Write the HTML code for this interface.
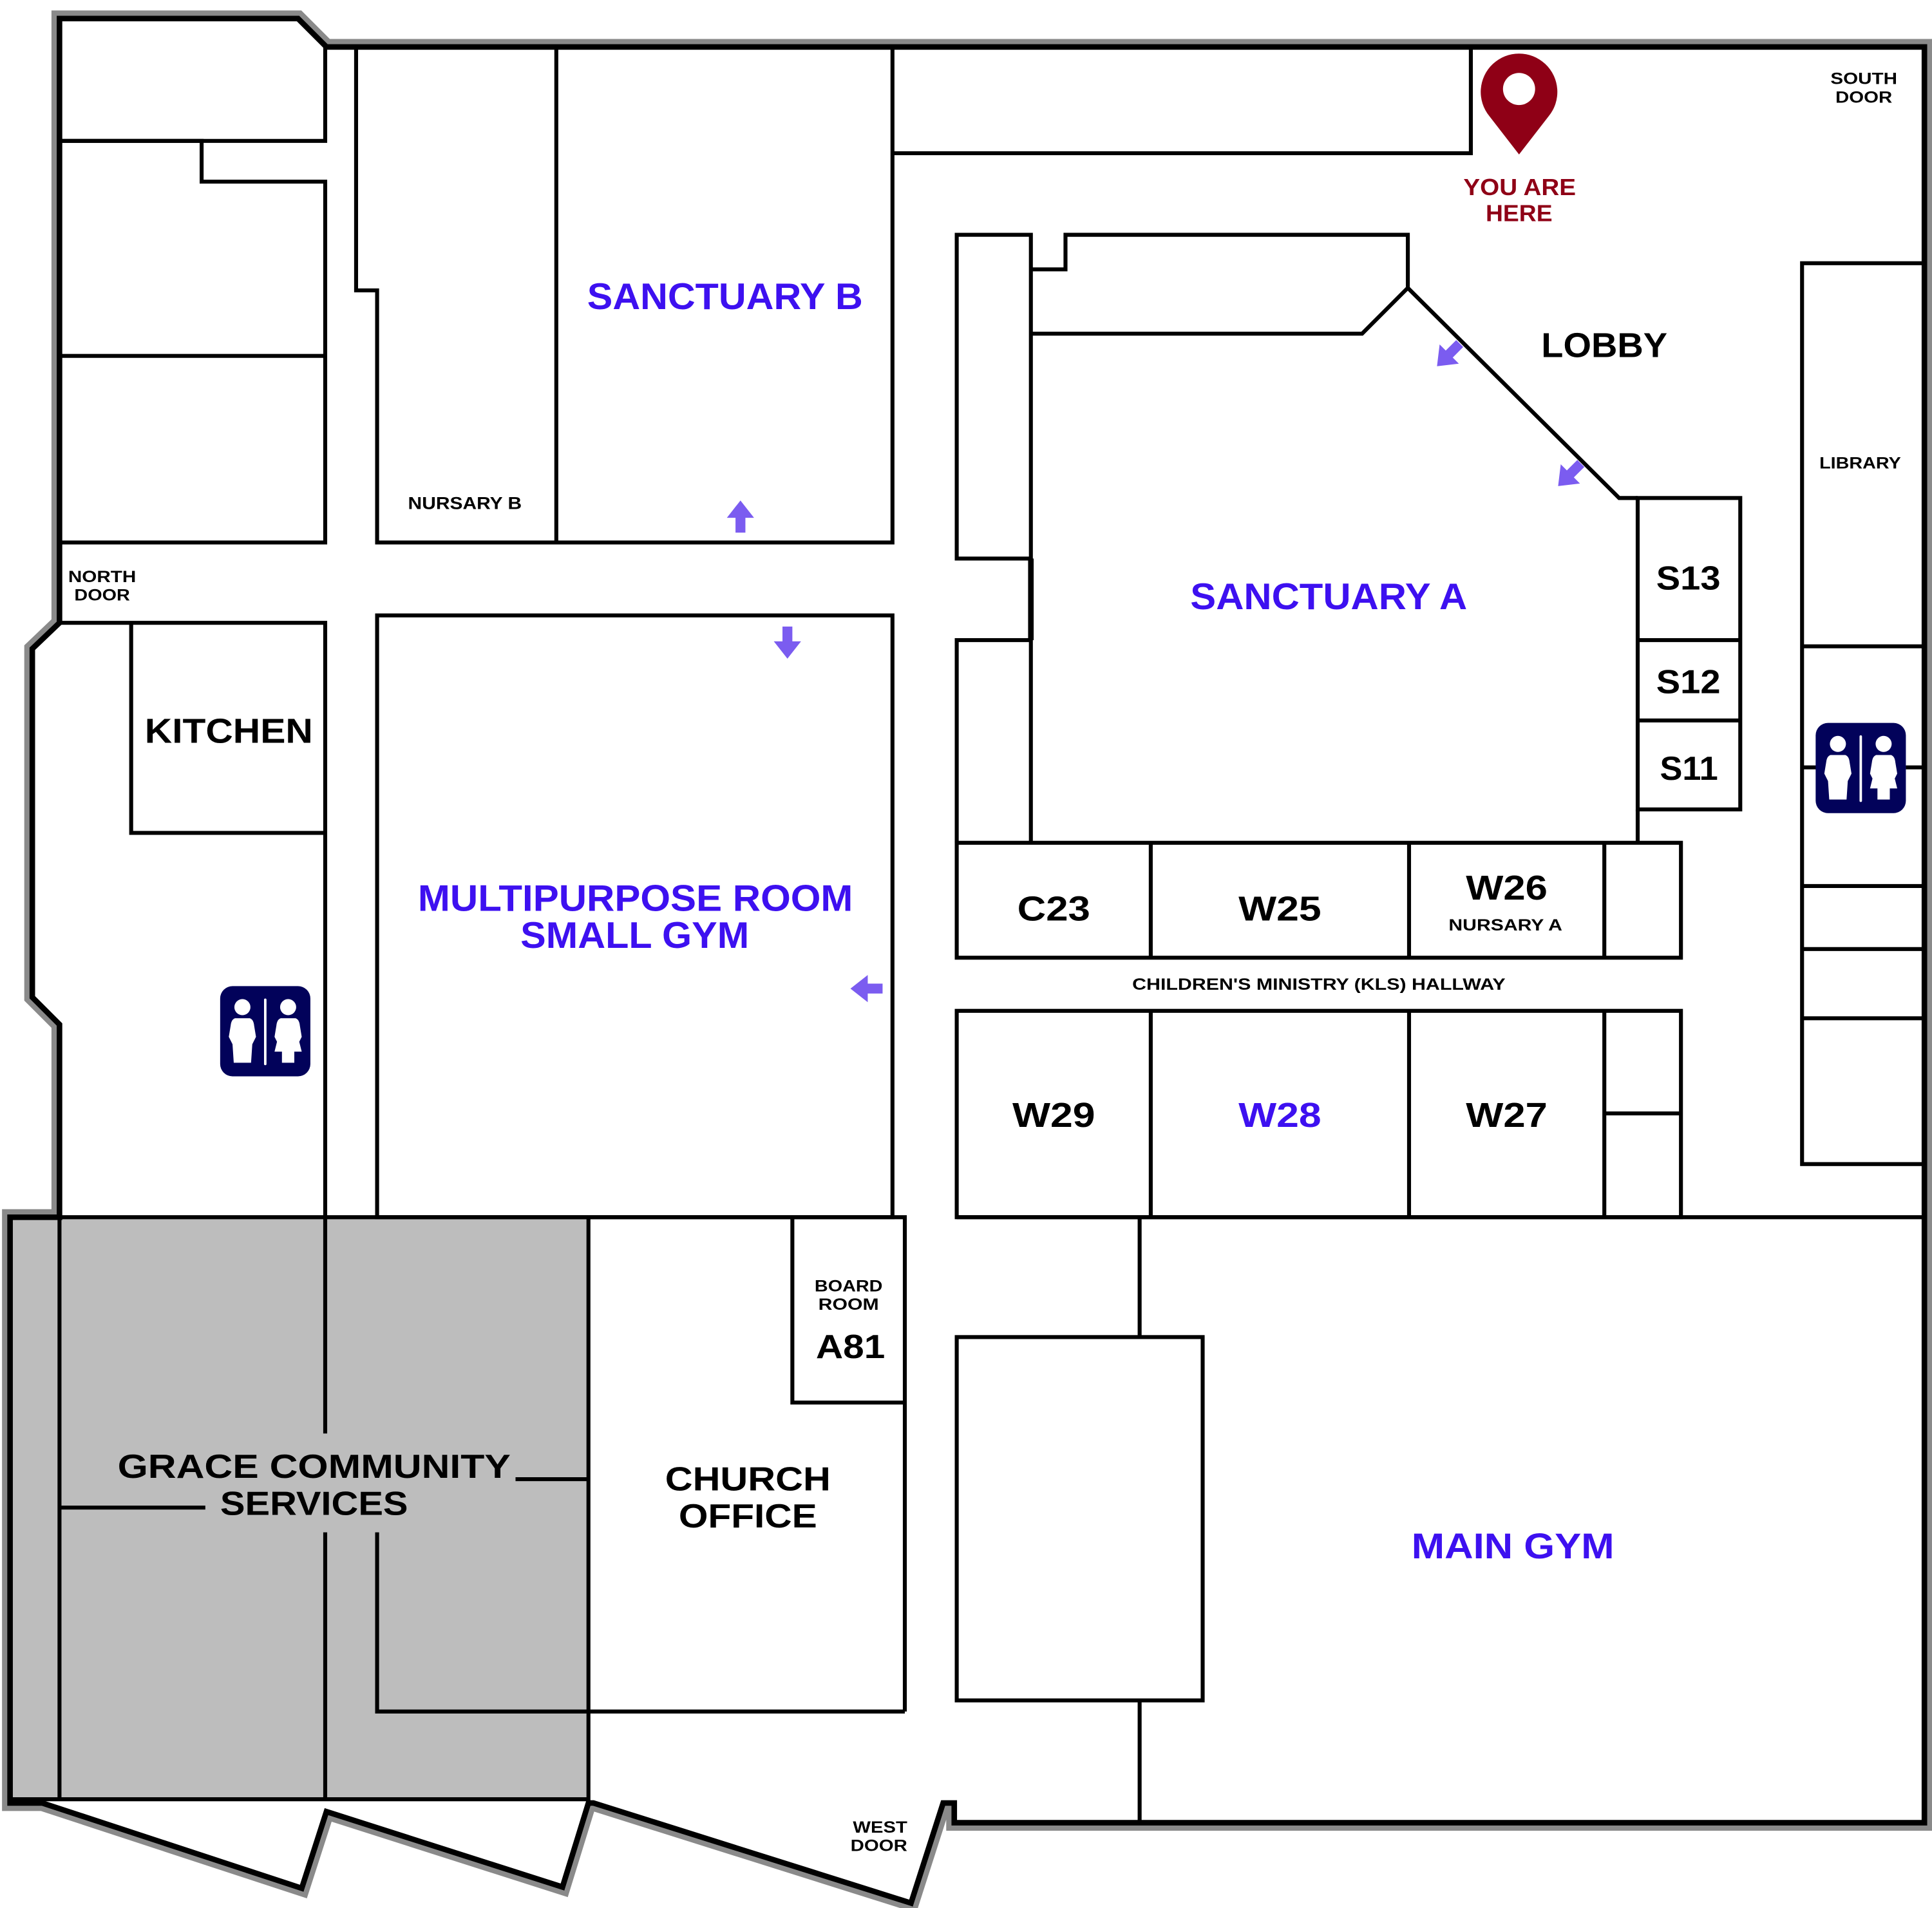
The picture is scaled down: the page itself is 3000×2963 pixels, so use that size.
<!DOCTYPE html>
<html><head><meta charset="utf-8"><style>
html,body{margin:0;padding:0;background:#fff;}
svg{display:block;}
text{font-family:"Liberation Sans",sans-serif;font-weight:bold;}
</style></head><body>
<svg width="3000" height="2963" viewBox="0 0 1563 1544" xmlns="http://www.w3.org/2000/svg">
<defs>
<g id="wc">
<rect x="0" y="0" width="73" height="73" rx="10" fill="#02025a"/>
<circle cx="18" cy="17" r="6.5" fill="#fff"/>
<path d="M12,26 L24,26 Q27,27 27.5,32 L29,41 L26,47 L25,62 L11,62 L10,47 L7,41 L8.5,32 Q9,27 12,26Z" fill="#fff"/>
<rect x="35.5" y="10" width="2" height="54" rx="1" fill="#fff"/>
<circle cx="55" cy="17" r="6.5" fill="#fff"/>
<path d="M49,26 L61,26 Q64,27 64.5,32 L66,41 L64,45 L66,53 L60,53 L60,62 L50,62 L50,53 L44,53 L46,45 L44,41 L45.5,32 Q46,27 49,26Z" fill="#fff"/>
</g>
<g id="arr"><path d="M-4,0 L-4,-12 L-11,-12 L0,-26 L11,-12 L4,-12 L4,0Z" fill="#7b5cf0"/></g>
</defs>
<path d="M48,15 L241,15 L264,38 L1557,38 L1557,1475 L772,1475 L772,1459 L763,1459 L737,1540 L480,1459 L476,1459 L455,1527 L264,1466 L244,1528 L34,1459 L8,1459 L8,985 L48,985 L48,829 L26,807 L26,525 L48,504 Z" fill="#fff" stroke="#8a8a8a" stroke-width="13" stroke-linejoin="miter"/>
<path d="M48,15 L241,15 L264,38 L1557,38 L1557,1475 L772,1475 L772,1459 L763,1459 L737,1540 L480,1459 L476,1459 L455,1527 L264,1466 L244,1528 L34,1459 L8,1459 L8,985 L48,985 L48,829 L26,807 L26,525 L48,504 Z" fill="#fff" stroke="none"/>
<rect x="8" y="985" width="468" height="471" fill="#bdbdbd"/>
<path d="M48,15 L241,15 L264,38 L1557,38 L1557,1475 L772,1475 L772,1459 L763,1459 L737,1540 L480,1459 L476,1459 L455,1527 L264,1466 L244,1528 L34,1459 L8,1459 L8,985 L48,985 L48,829 L26,807 L26,525 L48,504 Z" fill="none" stroke="#000" stroke-width="4.5"/>
<g fill="none" stroke="#000" stroke-width="3.2">
<path d="M48,114 L263,114 L263,38"/>
<path d="M48,114 L163,114 L163,147 L263,147 L263,439 L48,439"/>
<path d="M48,288 L263,288"/>
<path d="M288,38 L288,235 L305,235 L305,439 L722,439 L722,38"/>
<path d="M450,38 L450,439"/>
<path d="M722,124 L1190,124 L1190,38"/>
<rect x="774" y="190" width="60" height="262"/>
<path d="M834,452 L834,518" stroke-width="4.5"/>
<path d="M774,682 L774,518 L834,518 L834,682"/>
<path d="M834,218 L862,218 L862,190 L1139,190 L1139,233"/>
<path d="M834,270 L1102,270 L1139,233 L1310,403 L1325,403"/>
<rect x="1325" y="403" width="83" height="252"/>
<path d="M1325,518 L1408,518 M1325,583 L1408,583 M1325,655 L1325,682"/>
<rect x="774" y="682" width="586" height="93"/>
<path d="M931,682 L931,775 M1140,682 L1140,775 M1298,682 L1298,775"/>
<rect x="774" y="818" width="586" height="167"/>
<path d="M931,818 L931,985 M1140,818 L1140,985 M1298,818 L1298,985 M1298,901 L1360,901"/>
<path d="M774,985 L1557,985"/>
<path d="M922,985 L922,1082 M922,1376 L922,1475"/>
<rect x="774" y="1082" width="199" height="294"/>
<rect x="1458" y="213" width="99" height="729"/>
<path d="M1458,523 L1557,523 M1458,717 L1557,717 M1458,768 L1557,768 M1458,824 L1557,824 M1458,621 L1470,621 M1542,621 L1557,621"/>
<path d="M48,504 L263,504 L263,985"/>
<path d="M106,504 L106,674 L263,674"/>
<rect x="305" y="498" width="417" height="487"/>
<path d="M8,985 L476,985 M48,985 L48,1456 M8,1456 L476,1456"/>
<path d="M263,985 L263,1160 M263,1240 L263,1456"/>
<path d="M48,1220 L166,1220 M417,1197 L476,1197"/>
<path d="M305,1240 L305,1385 L732,1385"/>
<path d="M476,985 L732,985 L732,1385 M476,985 L476,1459"/>
<path d="M641,985 L641,1135 L732,1135"/>
</g>
<use href="#wc" x="178" y="798"/>
<use href="#wc" x="1469" y="585"/>
<use href="#arr" transform="translate(599,431)"/>
<use href="#arr" transform="translate(637,507) rotate(180)"/>
<use href="#arr" transform="translate(714,800) rotate(-90)"/>
<use href="#arr" transform="translate(1181,278) rotate(-135)"/>
<use href="#arr" transform="translate(1279,375) rotate(-135)"/>
<path d="M1229,125 L1205,94 A31,31 0 1 1 1253,94 Z" fill="#8f0016"/>
<circle cx="1229" cy="72" r="13" fill="#fff"/>
<g fill="#3d10f0">
<text x="475" y="250" font-size="30" textLength="223" lengthAdjust="spacingAndGlyphs">SANCTUARY B</text>
<text x="338" y="737" font-size="30" textLength="352" lengthAdjust="spacingAndGlyphs">MULTIPURPOSE ROOM</text>
<text x="421" y="767" font-size="30" textLength="185" lengthAdjust="spacingAndGlyphs">SMALL GYM</text>
<text x="963" y="493" font-size="30" textLength="224" lengthAdjust="spacingAndGlyphs">SANCTUARY A</text>
<text x="1002" y="912" font-size="28" textLength="67" lengthAdjust="spacingAndGlyphs">W28</text>
<text x="1142" y="1261" font-size="29" textLength="164" lengthAdjust="spacingAndGlyphs">MAIN GYM</text>
</g>
<g fill="#8f0016">
<text x="1184" y="158" font-size="19" textLength="91" lengthAdjust="spacingAndGlyphs">YOU ARE</text>
<text x="1202" y="179" font-size="19" textLength="54" lengthAdjust="spacingAndGlyphs">HERE</text>
</g>
<g fill="#000">
<text x="330" y="412" font-size="14" textLength="92" lengthAdjust="spacingAndGlyphs">NURSARY B</text>
<text x="55" y="471" font-size="13" textLength="55" lengthAdjust="spacingAndGlyphs">NORTH</text>
<text x="60" y="486" font-size="13" textLength="45" lengthAdjust="spacingAndGlyphs">DOOR</text>
<text x="117" y="601" font-size="28" textLength="136" lengthAdjust="spacingAndGlyphs">KITCHEN</text>
<text x="1247" y="289" font-size="28" textLength="102" lengthAdjust="spacingAndGlyphs">LOBBY</text>
<text x="1481" y="68" font-size="13" textLength="54" lengthAdjust="spacingAndGlyphs">SOUTH</text>
<text x="1485" y="83" font-size="13" textLength="46" lengthAdjust="spacingAndGlyphs">DOOR</text>
<text x="1472" y="379" font-size="13" textLength="66" lengthAdjust="spacingAndGlyphs">LIBRARY</text>
<text x="1340" y="477" font-size="27" textLength="52" lengthAdjust="spacingAndGlyphs">S13</text>
<text x="1340" y="561" font-size="27" textLength="52" lengthAdjust="spacingAndGlyphs">S12</text>
<text x="1343" y="631" font-size="27" textLength="47" lengthAdjust="spacingAndGlyphs">S11</text>
<text x="823" y="745" font-size="28" textLength="59" lengthAdjust="spacingAndGlyphs">C23</text>
<text x="1002" y="745" font-size="28" textLength="67" lengthAdjust="spacingAndGlyphs">W25</text>
<text x="1186" y="728" font-size="28" textLength="66" lengthAdjust="spacingAndGlyphs">W26</text>
<text x="1172" y="753" font-size="13" textLength="92" lengthAdjust="spacingAndGlyphs">NURSARY A</text>
<text x="916" y="801" font-size="13" textLength="302" lengthAdjust="spacingAndGlyphs">CHILDREN'S MINISTRY (KLS) HALLWAY</text>
<text x="819" y="912" font-size="28" textLength="67" lengthAdjust="spacingAndGlyphs">W29</text>
<text x="1186" y="912" font-size="28" textLength="66" lengthAdjust="spacingAndGlyphs">W27</text>
<text x="659" y="1045" font-size="13" textLength="55" lengthAdjust="spacingAndGlyphs">BOARD</text>
<text x="662" y="1060" font-size="13" textLength="49" lengthAdjust="spacingAndGlyphs">ROOM</text>
<text x="660" y="1099" font-size="27" textLength="56" lengthAdjust="spacingAndGlyphs">A81</text>
<text x="95" y="1196" font-size="27" textLength="318" lengthAdjust="spacingAndGlyphs">GRACE COMMUNITY</text>
<text x="178" y="1226" font-size="27" textLength="152" lengthAdjust="spacingAndGlyphs">SERVICES</text>
<text x="538" y="1206" font-size="27" textLength="134" lengthAdjust="spacingAndGlyphs">CHURCH</text>
<text x="549" y="1236" font-size="27" textLength="112" lengthAdjust="spacingAndGlyphs">OFFICE</text>
<text x="690" y="1483" font-size="13" textLength="44" lengthAdjust="spacingAndGlyphs">WEST</text>
<text x="688" y="1498" font-size="13" textLength="46" lengthAdjust="spacingAndGlyphs">DOOR</text>
</g>
</svg>
</body></html>
